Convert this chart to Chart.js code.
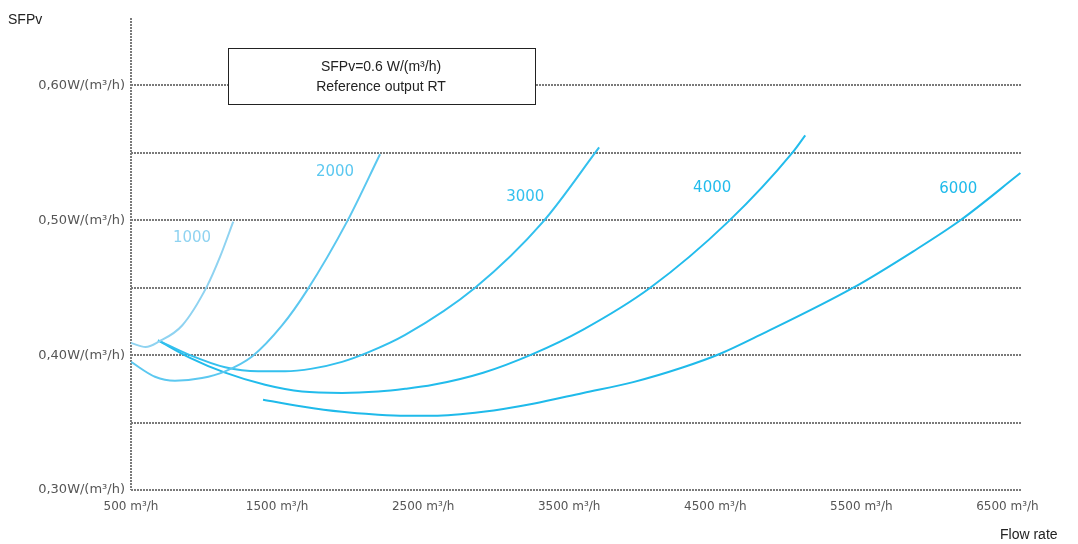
<!DOCTYPE html>
<html>
<head>
<meta charset="utf-8">
<script src="https://cdn.jsdelivr.net/npm/chart.js@4"></script>
<style>
  body { margin: 0; background: #fff; }
  canvas { display: block; }
</style>
</head>
<body>
<canvas id="chart-1" width="1078" height="544"></canvas>
<script>
// flow rate (m3/h) and SFPv (W/(m3/h))
const flow1000 = [500, 600, 690, 850, 1020, 1110, 1200];
const sfp1000 = [0.409, 0.406, 0.410, 0.422, 0.451, 0.473, 0.499];

const flow2000 = [500, 664, 801, 986, 1144, 1329, 1534, 1705, 1979, 2205];
const sfp2000 = [0.395, 0.384, 0.381, 0.383, 0.388, 0.399, 0.422, 0.448, 0.499, 0.549];

const flow3000 = [685, 904, 1144, 1370, 1555, 1740, 1945, 2123, 2377, 2856, 3322, 3705];
const sfp3000 = [0.411, 0.400, 0.391, 0.388, 0.388, 0.390, 0.395, 0.402, 0.415, 0.450, 0.499, 0.554];

const flow4000 = [685, 904, 1144, 1418, 1671, 1945, 2192, 2377, 2568, 2911, 3253, 3596, 4055, 4589, 5027, 5116];
const sfp4000 = [0.411, 0.398, 0.387, 0.378, 0.373, 0.372, 0.373, 0.375, 0.378, 0.387, 0.401, 0.419, 0.450, 0.499, 0.550, 0.563];

const flow6000 = [1404, 1671, 1945, 2171, 2377, 2568, 2911, 3253, 3596, 3938, 4281, 4534, 4808, 5445, 5856, 6178, 6589];
const sfp6000 = [0.367, 0.362, 0.358, 0.356, 0.355, 0.355, 0.358, 0.364, 0.372, 0.380, 0.391, 0.401, 0.415, 0.450, 0.477, 0.500, 0.535];

const seriesNames = ['1000', '2000', '3000', '4000', '6000'];
const seriesColors = ['#8fd3f1', '#5cc8f0', '#33c0ee', '#22bcec', '#1fbaea'];
// where each curve's label sits (flow, SFPv)
const labelFlow = [918, 1897, 3199, 4479, 6164];
const labelSfp = [0.487, 0.536, 0.517, 0.524, 0.523];

const xTicks = [500, 1500, 2500, 3500, 4500, 5500, 6500];
const yTicks = [0.30, 0.35, 0.40, 0.45, 0.50, 0.55, 0.60];
const yLabelled = [0.30, 0.40, 0.50, 0.60];

const allFlow = [flow1000, flow2000, flow3000, flow4000, flow6000];
const allSfp = [sfp1000, sfp2000, sfp3000, sfp4000, sfp6000];

const gridGray = '#7a7a7a';

const extras = {
    id: 'extras',
    afterDraw(chart) {
        const ctx = chart.ctx;
        const xs = chart.scales.x;
        const ys = chart.scales.y;
        ctx.save();
        // curve labels
        ctx.font = '15px "DejaVu Sans"';
        ctx.textAlign = 'center';
        ctx.textBaseline = 'middle';
        seriesNames.forEach((name, i) => {
            ctx.fillStyle = seriesColors[i];
            ctx.fillText(name, xs.getPixelForValue(labelFlow[i]), ys.getPixelForValue(labelSfp[i]));
        });
        // reference box
        ctx.fillStyle = '#fff';
        ctx.fillRect(228, 48, 307, 56);
        ctx.strokeStyle = '#222';
        ctx.lineWidth = 1;
        ctx.strokeRect(228.5, 48.5, 307, 56);
        ctx.fillStyle = '#222';
        ctx.font = '14px "Liberation Sans"';
        ctx.fillText('SFPv=0.6 W/(m³/h)', 381, 67);
        ctx.fillText('Reference output RT', 381, 87);
        // axis titles
        ctx.textAlign = 'left';
        ctx.fillText('SFPv', 8, 20);
        ctx.fillText('Flow rate', 1000, 535);
        ctx.restore();
    }
};

new Chart(document.getElementById('chart-1').getContext('2d'), { // eslint-disable-line
    type: 'line',
    data: {
        datasets: seriesNames.map((name, i) => ({
            label: name,
            data: allFlow[i].map((f, j) => ({ x: f, y: allSfp[i][j] })),
            borderColor: seriesColors[i],
            borderWidth: 2,
            pointRadius: 0,
            cubicInterpolationMode: 'monotone',
            fill: false
        }))
    },
    options: {
        responsive: false,
        animation: false,
        layout: { padding: { top: 18, right: 56, left: 0, bottom: 0 } },
        plugins: {
            legend: { display: false },
            tooltip: { enabled: false }
        },
        scales: {
            x: {
                type: 'linear',
                min: 500,
                max: 6600,
                afterBuildTicks: (scale) => { scale.ticks = xTicks.map(v => ({ value: v })); },
                afterFit: (scale) => { scale.height = 54; },
                ticks: {
                    padding: 10,
                    color: '#555',
                    font: { family: 'DejaVu Sans', size: 12 },
                    maxRotation: 0,
                    callback: (v) => v + ' m³/h'
                },
                grid: {
                    drawTicks: false,
                    lineWidth: 2,
                    color: (c) => (c.tick && c.tick.value === 500 ? gridGray : 'rgba(0,0,0,0)')
                },
                border: { display: false, dash: [2, 1] }
            },
            y: {
                min: 0.30,
                max: 0.65,
                afterBuildTicks: (scale) => { scale.ticks = yTicks.map(v => ({ value: v })); },
                afterFit: (scale) => { scale.width = 131; },
                ticks: {
                    padding: 6,
                    color: '#555',
                    font: { family: 'DejaVu Sans', size: 13 },
                    callback: (v) => (yLabelled.some(t => Math.abs(t - v) < 1e-6)
                        ? v.toFixed(2).replace('.', ',') + 'W/(m³/h)' : '')
                },
                grid: {
                    drawTicks: false,
                    lineWidth: 2,
                    color: gridGray
                },
                border: { display: false, dash: [2, 1] }
            }
        }
    },
    plugins: [extras]
});
</script>
</body>
</html>
